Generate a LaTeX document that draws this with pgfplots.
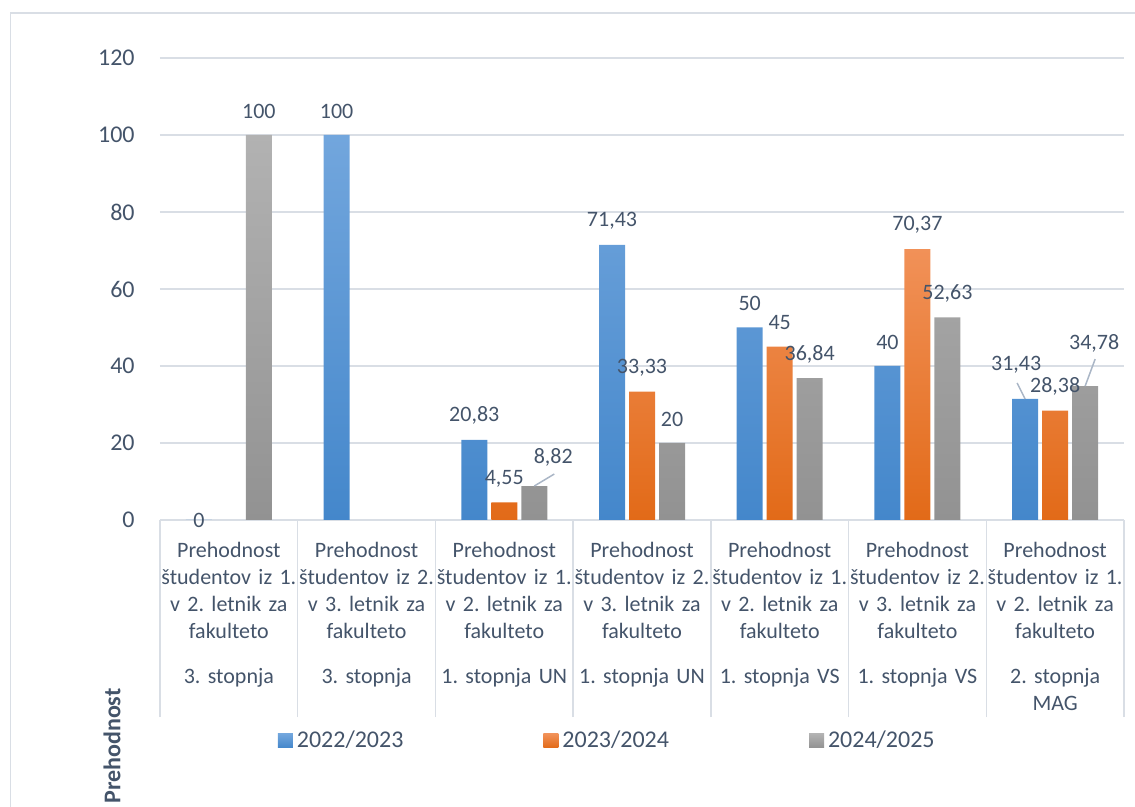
\documentclass[border=0pt]{standalone}
\usepackage{fontspec}
\setmainfont{Carlito}
\usepackage{pgfplots}
\pgfplotsset{compat=1.18}
\usepackage{pgfplotstable}
\frenchspacing

\definecolor{cText}{RGB}{68,84,106}
\definecolor{cGrid}{RGB}{217,222,229}
\definecolor{cLead}{RGB}{170,182,198}
\definecolor{cBlueT}{RGB}{114,166,221}
\definecolor{cBlueB}{RGB}{68,135,203}
\definecolor{cOrT}{RGB}{241,145,88}
\definecolor{cOrB}{RGB}{226,106,24}
\definecolor{cGrT}{RGB}{178,178,178}
\definecolor{cGrB}{RGB}{146,146,146}

% x  value  label-shift (pt)  label
\pgfplotstableread{
x y dx dy lab
0 0     0    -12  0
1 100   0    0    100
2 20.83 0    0    20,83
3 71.43 0    0    71,43
4 50    0    0    50
5 40    0    0    40
6 31.43 -4.5 5    31,43
}\tblA
\pgfplotstableread{
x y dx dy lab
2 4.55  0    0    4,55
3 33.33 0    0    33,33
4 45    0    0    45
5 70.37 0    0    70,37
6 28.38 0    0    28,38
}\tblB
\pgfplotstableread{
x y dx dy lab
0 100   0    0    100
2 8.82  9.5  2.5  8,82
3 20    0    0    20
4 36.84 0    0    36,84
5 52.63 0    0    52,63
6 34.78 4.5  9.5  34,78
}\tblC

\begin{document}
\begin{tikzpicture}
\useasboundingbox (-80pt,-143.5pt) rectangle (487.5pt,260pt);
\begin{axis}[
    at={(0,0)}, anchor=south west,
    scale only axis,
    width=482pt, height=231pt,
    ybar=2pt, bar width=13pt,
    xmin=-0.5, xmax=6.5,
    ymin=0, ymax=120,
    ytick={0,20,...,120},
    xtick={0,...,6},
    xticklabels={
      {Prehodnost\\študentov iz 1.\\v 2. letnik za\\fakulteto\\[9pt]3. stopnja},
      {Prehodnost\\študentov iz 2.\\v 3. letnik za\\fakulteto\\[9pt]3. stopnja},
      {Prehodnost\\študentov iz 1.\\v 2. letnik za\\fakulteto\\[9pt]1. stopnja UN},
      {Prehodnost\\študentov iz 2.\\v 3. letnik za\\fakulteto\\[9pt]1. stopnja UN},
      {Prehodnost\\študentov iz 1.\\v 2. letnik za\\fakulteto\\[9pt]1. stopnja VS},
      {Prehodnost\\študentov iz 2.\\v 3. letnik za\\fakulteto\\[9pt]1. stopnja VS},
      {Prehodnost\\študentov iz 1.\\v 2. letnik za\\fakulteto\\[9pt]2. stopnja\\MAG}},
    xticklabel style={font=\fontsize{11}{13.5}\selectfont, text=cText,
      align=center, text width=68pt, anchor=north, yshift=-7.5pt},
    yticklabel style={font=\fontsize{12}{14}\selectfont, text=cText,
      inner sep=0pt, xshift=-12.5pt},
    /pgf/number format/assume math mode=true,
    axis line style={draw=none},
    tick style={draw=cGrid, line width=0.75pt},
    major tick length=0pt,
    xtick pos=left,
    extra x ticks={-0.5,0.5,1.5,2.5,3.5,4.5,5.5,6.5},
    extra x tick labels={},
    extra x tick style={major tick length=98.5pt, tick align=outside},
    ymajorgrids,
    grid style={draw=cGrid, line width=0.75pt},
    ylabel={\bfseries Prehodnost},
    ylabel style={at={(axis description cs:0,0)}, anchor=center,
      xshift=-113pt, yshift=24pt, font=\fontsize{12}{14}\selectfont, text=cText},
    legend style={at={(axis description cs:0.465,-0.478)}, anchor=center,
      legend columns=3, draw=none, fill=none,
      font=\fontsize{12}{14}\selectfont, text=cText,
      /tikz/every even column/.append style={column sep=68pt}},
    legend image code/.code={\path[#1] (-2pt,-3.5pt) rectangle (5.5pt,3.5pt);},
    nodes near coords={\pgfplotspointmeta},
    point meta=explicit symbolic,
    visualization depends on={\thisrow{dx} \as \dx},
    visualization depends on={\thisrow{dy} \as \dy},
    every node near coord/.append style={font=\fontsize{11}{13}\selectfont,
      text=cText, anchor=center, xshift=\dx pt, yshift=12pt+\dy pt},
]
\addplot[draw=none, top color=cBlueT, bottom color=cBlueB]
    table[x=x, y=y, meta=lab] {\tblA};
\addlegendentry{2022/2023}
\addplot[draw=none, top color=cOrT, bottom color=cOrB]
    table[x=x, y=y, meta=lab] {\tblB};
\addlegendentry{2023/2024}
\addplot[draw=none, top color=cGrT, bottom color=cGrB]
    table[x=x, y=y, meta=lab] {\tblC};
\addlegendentry{2024/2025}

% leader lines of the moved labels
\draw[cLead, line width=0.75pt] ([xshift=15pt]axis cs:2,8.82) -- ++(10pt,6pt);
\draw[cLead, line width=0.75pt] ([xshift=-15pt]axis cs:6,31.43) -- ++(-4pt,8pt);
\draw[cLead, line width=0.75pt] ([xshift=15pt]axis cs:6,34.78) -- ++(5pt,13.5pt);
\end{axis}
% chart frame
\draw[cGrid, line width=0.75pt] (-74.75pt,-143.5pt) -- (-74.75pt,253.5pt) -- (487.5pt,253.5pt);
\end{tikzpicture}
\end{document}
